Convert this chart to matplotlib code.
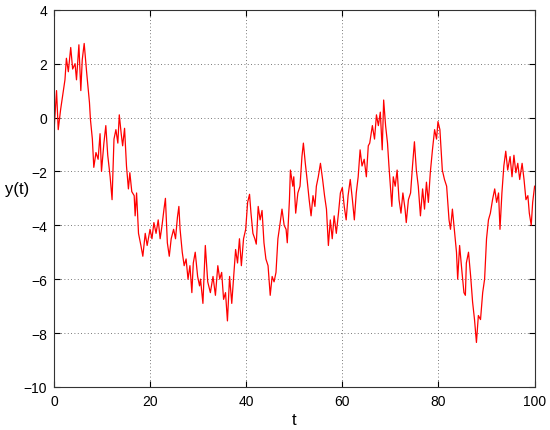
import matplotlib
matplotlib.use("Agg")
import matplotlib.pyplot as plt

# values
t = [0.0, 0.55, 0.9, 1.4, 1.9, 2.3, 2.6, 3.0, 3.5, 3.9, 4.4, 4.7, 5.2, 5.6, 5.9, 6.3, 6.8,
     7.4, 7.6, 8.0, 8.3, 8.75, 9.2, 9.6, 9.9, 10.4, 10.8, 11.2, 11.7, 12.1, 12.5, 12.9,
     13.3, 13.6, 14.0, 14.3, 14.7, 15.1, 15.5, 15.8, 16.2, 16.7, 16.9, 17.2, 17.6, 18.1,
     18.5, 19.0, 19.4, 20.0, 20.4, 20.8, 21.25, 21.7, 22.1, 22.5, 22.9, 23.2, 23.6, 24.0,
     24.4, 24.9, 25.3, 25.7, 26.0, 26.25, 26.7, 27.1, 27.5, 27.9, 28.3, 28.7, 29.0, 29.4,
     29.9, 30.3,
     30.5, 31.0, 31.5, 32.0, 32.55, 33.1, 33.6, 34.1, 34.5, 34.9, 35.3, 35.7, 36.1, 36.55,
     37.0, 37.4, 37.8, 38.2, 38.6, 39.0, 39.45, 39.9, 40.3, 40.7, 41.0, 41.4, 41.8, 42.1,
     42.5, 42.9, 43.3, 43.7, 44.1, 44.55, 45.0, 45.4, 45.8, 46.2, 46.6, 47.0, 47.45, 47.9,
     48.3, 48.55, 49.0, 49.2, 49.7, 49.9, 50.3, 50.75, 51.2, 51.6, 51.9, 52.3, 52.7, 53.1,
     53.5, 53.9, 54.3, 54.6, 55.0, 55.45, 55.9, 56.3, 56.7, 57.1, 57.5, 57.9, 58.3, 58.75,
     59.2, 59.6, 60.0, 60.4, 60.8, 61.2, 61.65, 62.1, 62.5, 62.9, 63.3, 63.7, 64.1, 64.55,
     65.0, 65.4,
     65.7, 66.25, 66.7, 67.1, 67.5, 67.9, 68.3, 68.6, 69.0, 69.4, 69.7, 70.0, 70.3, 70.6,
     71.0, 71.4, 71.8, 72.2, 72.6, 73.05, 73.3, 73.75, 74.2, 74.6, 75.0, 75.4, 75.8, 76.25,
     76.7, 77.1, 77.5, 77.9, 78.3, 78.75, 79.2, 79.6, 79.9, 80.3, 80.55, 80.8, 81.25, 81.7,
     81.9, 82.2, 82.5, 82.9, 83.3, 83.75, 84.0, 84.4, 84.9, 85.3, 85.6, 85.8, 86.25, 86.7,
     87.1, 87.5, 87.9, 88.3, 88.75, 89.2, 89.6, 90.0, 90.4, 90.8, 91.25, 91.7, 92.1, 92.5,
     92.8, 93.2, 93.6, 94.0, 94.4, 94.9, 95.3, 95.7, 96.1, 96.5, 96.9, 97.4, 97.8, 98.2,
     98.6, 98.9, 99.3, 99.6, 100.0]
y = [-0.57, 1.0, -0.45, 0.3, 0.9, 1.4, 2.2, 1.7, 2.6, 1.8, 2.0, 1.4, 2.7, 1.0, 2.15, 2.75, 1.7,
     0.55, -0.07, -0.8, -1.85, -1.3, -1.55, -0.6, -2.0, -0.95, -0.3, -1.4, -2.2, -3.05, -0.8, -0.45,
     -0.95, 0.1, -0.6, -1.05, -0.4, -1.8, -2.65, -2.05, -2.75, -2.9, -3.65, -2.8, -4.3, -4.75,
     -5.15, -4.3, -4.75, -4.15, -4.5, -3.9, -4.3, -3.8, -4.5, -4.0, -3.4, -3.0, -4.65, -5.15,
     -4.5, -4.15, -4.5, -3.7, -3.3, -4.15, -5.0, -5.5, -5.25, -6.0, -5.5, -6.5, -5.4, -5.0,
     -5.9, -6.25,
     -6.0, -6.9, -4.75, -6.1, -6.5, -5.9, -6.6, -5.5, -6.0, -5.75, -6.75, -6.5, -7.55, -5.9,
     -6.9, -5.9, -4.9, -5.4, -4.5, -5.5, -4.5, -4.15, -3.15, -2.85, -3.55, -4.3, -4.5, -4.7,
     -3.3, -3.8, -3.45, -4.65, -5.25, -5.5, -6.6, -5.9, -6.1, -5.75, -4.5, -4.0, -3.4, -4.0,
     -4.15, -4.65, -3.05, -1.95, -2.55, -2.2, -3.55, -2.8, -2.55, -1.45, -0.95, -1.7, -2.35, -3.05,
     -3.65, -2.9, -3.3, -2.55, -2.2, -1.7, -2.3, -2.9, -3.4, -4.75, -3.8, -4.5, -3.65, -4.3,
     -3.55, -2.8, -2.6, -3.3, -3.8, -2.9, -2.3, -3.05, -3.8, -2.8, -2.2, -1.2, -1.8, -1.55,
     -2.2, -1.05,
     -0.95, -0.3, -0.8, 0.1, -0.3, 0.2, -1.2, 0.65, -0.3, -0.95, -1.8, -2.55, -3.3, -2.2,
     -2.55, -1.95, -3.05, -3.55, -2.8, -3.4, -3.9, -3.05, -2.8, -1.8, -0.9, -1.95, -2.55, -3.65,
     -2.65, -3.4, -2.4, -3.15, -2.05, -1.2, -0.45, -0.8, -0.15, -0.45, -1.2, -1.95, -2.3, -2.55,
     -3.05, -3.8, -4.15, -3.4, -4.15, -5.0, -6.0, -4.75, -5.75, -6.5, -6.6, -5.4, -5.0, -5.9,
     -6.85, -7.5, -8.35, -7.35, -7.5, -6.5, -6.0, -4.5, -3.8, -3.55, -3.05, -2.65, -3.15, -2.8,
     -4.15, -2.8, -1.8, -1.25, -1.95, -1.45, -2.2, -1.4, -2.05, -1.7, -2.3, -1.7, -2.3, -3.05,
     -2.9, -3.55, -4.0, -3.15, -2.55]

xticks = [0, 20, 40, 60, 80, 100]
yticks = [-10, -8, -6, -4, -2, 0, 2, 4]

plt.rcParams['font.family'] = ['Liberation Sans', 'DejaVu Sans']

fig = plt.figure(figsize=(5.5, 4.31), dpi=100)
ax = fig.add_axes([0.098, 0.1, 0.874, 0.875])
ax.plot(t, y, color='red', linewidth=0.9)

ax.set_xlim(0, 100)
ax.set_ylim(-10, 4)
ax.set_xticks(xticks)
ax.set_yticks(yticks)
ax.tick_params(direction='in', top=True, right=True, labelsize=10, length=4, pad=5)
ax.grid(True, linestyle=(0, (1, 3)), color='black', linewidth=0.6, alpha=0.7)
for s in ax.spines.values():
    s.set_linewidth(0.8)
    s.set_color('#333333')

ax.set_xlabel('t', fontsize=12, labelpad=3)
ax.set_ylabel('y(t)', fontsize=12, rotation=0, ha='center', va='center')
ax.yaxis.set_label_coords(-0.076, 0.525)

fig.savefig('out.png', dpi=100)
